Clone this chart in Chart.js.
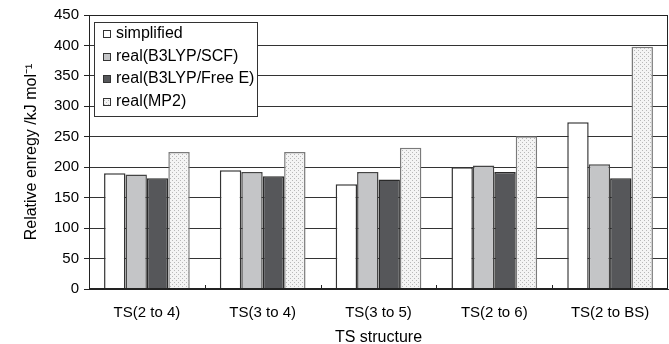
<!DOCTYPE html>
<html>
<head>
<meta charset="utf-8">
<script src="https://cdn.jsdelivr.net/npm/chart.js@4.4.1/dist/chart.umd.min.js"></script>
<style>
  html, body { margin: 0; padding: 0; background: #fff; }
  #wrap { width: 669px; height: 344px; position: relative; }
</style>
</head>
<body>
<div id="wrap"><canvas id="energy-chart"></canvas></div>
<script>
  const categories = ['TS(2 to 4)', 'TS(3 to 4)', 'TS(3 to 5)', 'TS(2 to 6)', 'TS(2 to BS)'];
  const seriesNames = ['simplified', 'real(B3LYP/SCF)', 'real(B3LYP/Free E)', 'real(MP2)'];
  const simplified = [190, 195, 172, 200, 274];
  const b3lypScf = [188, 192, 192, 203, 205];
  const b3lypFreeE = [182, 185, 180, 192, 182];
  const mp2 = [225, 225, 232, 251, 398];
  const yMin = 0, yMax = 450, yStep = 50;

  const FONT = "'Liberation Sans', Arial, sans-serif";

  // dotted fill used by the MP2 bars
  function dotPattern() {
    const c = document.createElement('canvas');
    c.width = 4; c.height = 4;
    const g = c.getContext('2d');
    g.fillStyle = '#f4f4f4';
    g.fillRect(0, 0, 4, 4);
    g.fillStyle = '#b8b8b8';
    g.fillRect(0, 0, 1, 1);
    g.fillRect(2, 2, 1, 1);
    return g.createPattern(c, 'repeat');
  }

  const ctx = document.getElementById('energy-chart').getContext('2d');
  const mp2Fill = dotPattern();

  // frame, small category ticks and the boxed legend inside the plot
  const framePlugin = {
    id: 'frame',
    afterDraw(chart) {
      const { ctx, chartArea: a, scales: { x } } = chart;
      ctx.save();
      ctx.strokeStyle = '#222';
      ctx.lineWidth = 1;
      ctx.strokeRect(a.left + 0.5, a.top + 0.5, a.right - a.left - 1, a.bottom - a.top - 1);

      for (let i = 1; i < categories.length; i++) {
        const px = Math.round((x.getPixelForTick(i - 1) + x.getPixelForTick(i)) / 2) + 0.5;
        ctx.beginPath();
        ctx.moveTo(px, a.bottom);
        ctx.lineTo(px, a.bottom - 4);
        ctx.stroke();
      }

      const bx = 94, by = 22, bw = 163, bh = 94;
      ctx.fillStyle = '#fff';
      ctx.fillRect(bx, by, bw, bh);
      ctx.strokeStyle = '#333';
      ctx.strokeRect(bx + 0.5, by + 0.5, bw, bh);

      ctx.font = '16px ' + FONT;
      ctx.textBaseline = 'middle';
      chart.data.datasets.forEach((ds, i) => {
        const cy = Math.round(34 + i * 22.7);
        ctx.fillStyle = ds.backgroundColor;
        ctx.fillRect(103, cy - 4, 8, 8);
        ctx.strokeStyle = '#333';
        ctx.strokeRect(103.5, cy - 3.5, 7, 7);
        ctx.fillStyle = '#000';
        ctx.fillText(ds.label, 116, cy);
      });
      ctx.restore();
    }
  };

  new Chart(ctx, {
    type: 'bar',
    data: {
      labels: categories,
      datasets: [
        { label: seriesNames[0], data: simplified, backgroundColor: '#ffffff', borderColor: '#333', borderWidth: 1.5 },
        { label: seriesNames[1], data: b3lypScf, backgroundColor: '#c4c5c7', borderColor: '#444', borderWidth: 1.5 },
        { label: seriesNames[2], data: b3lypFreeE, backgroundColor: '#56575a', borderColor: '#2a2a2a', borderWidth: 1.5 },
        { label: seriesNames[3], data: mp2, backgroundColor: mp2Fill, borderColor: '#7a7a7a', borderWidth: 1.5 }
      ]
    },
    options: {
      responsive: true,
      maintainAspectRatio: false,
      animation: false,
      layout: { padding: { left: 0, top: 15, right: 1, bottom: 0 } },
      datasets: { bar: { categoryPercentage: 0.74, barPercentage: 1 } },
      plugins: {
        legend: { display: false },
        tooltip: { enabled: false }
      },
      scales: {
        x: {
          afterFit: s => { s.height = 55; },
          grid: { display: false, drawTicks: false },
          border: { display: true, color: '#222', width: 1 },
          ticks: { color: '#000', padding: 15, font: { family: FONT, size: 15 } },
          title: { display: true, text: 'TS structure', color: '#000', padding: 0, font: { family: FONT, size: 16, lineHeight: 0.85 } }
        },
        y: {
          min: yMin,
          max: yMax,
          afterFit: s => { s.width = 89; },
          grid: { color: '#333', lineWidth: 1, tickLength: 5, tickColor: '#222' },
          border: { display: true, color: '#222', width: 1 },
          ticks: { stepSize: yStep, color: '#000', padding: 5, font: { family: FONT, size: 15 } },
          title: { display: true, text: 'Relative enregy /kJ mol⁻¹', color: '#000', padding: { top: 22 }, font: { family: FONT, size: 16 } }
        }
      }
    },
    plugins: [framePlugin]
  });
</script>
</body>
</html>
